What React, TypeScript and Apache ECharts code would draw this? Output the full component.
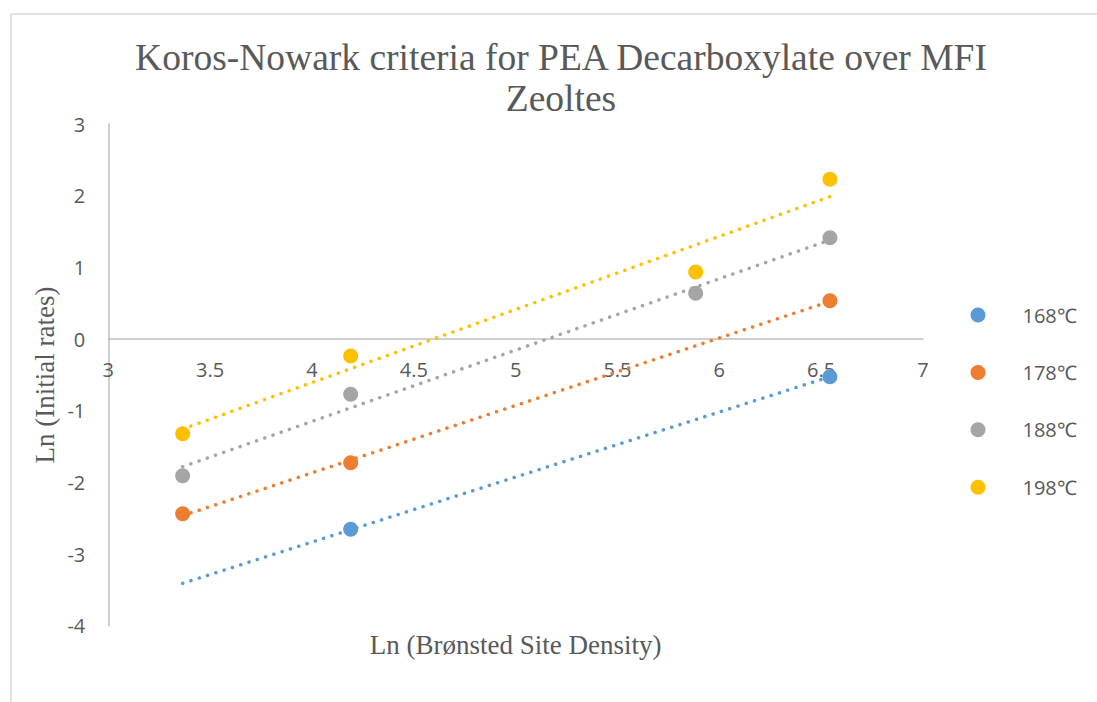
import React, { useEffect, useRef } from "react";
import * as echarts from "echarts";

const titleText = "Koros-Nowark criteria for PEA Decarboxylate over MFI\nZeoltes";
const xAxisTitle = "Ln (Brønsted Site Density)";
const yAxisTitle = "Ln (Initial rates)";

const seriesNames = ["168℃", "178℃", "188℃", "198℃"];
const seriesColors = ["#5B9BD5", "#ED7D31", "#A5A5A5", "#FFC000"];

const x168 = [4.19, 6.543];
const y168 = [-2.655, -0.526];
const x178 = [3.365, 4.19, 6.543];
const y178 = [-2.438, -1.726, 0.534];
const x188 = [3.365, 4.19, 5.884, 6.543];
const y188 = [-1.907, -0.772, 0.638, 1.413];
const x198 = [3.365, 4.19, 5.884, 6.543];
const y198 = [-1.321, -0.237, 0.935, 2.228];

// linear trendline end points (as drawn)
const trendX = [3.365, 6.543];
const trend168 = [-3.409, -0.526];
const trend178 = [-2.465, 0.525];
const trend188 = [-1.782, 1.381];
const trend198 = [-1.256, 1.986];

const xTicks = { min: 3, max: 7, interval: 0.5 };
const yTicks = { min: -4, max: 3, interval: 1 };

const pts = (xs: number[], ys: number[]) => xs.map((x, i) => [x, ys[i]]);

export default function App() {
  const ref = useRef<HTMLDivElement>(null);
  useEffect(() => {
    document.body.style.margin = "0";
    const chart = echarts.init(ref.current!, undefined, { renderer: "svg" });
    const scatterData = [
      pts(x168, y168),
      pts(x178, y178),
      pts(x188, y188),
      pts(x198, y198),
    ];
    const trends = [trend168, trend178, trend188, trend198];
    const tickFont = { color: "#595959", fontSize: 20, fontFamily: "Open Sans" };
    const gridTop = 124;
    const gridBottom = 76.3;
    const plotH = 702 - gridTop - gridBottom;
    // move the x axis (line and labels) up to y = 0
    const zeroOffset = -plotH * (0 - yTicks.min) / (yTicks.max - yTicks.min);
    chart.setOption({
      animation: false,
      backgroundColor: "#ffffff",
      grid: { left: 108.3, right: 174, top: gridTop, bottom: gridBottom },
      xAxis: {
        type: "value",
        min: xTicks.min,
        max: xTicks.max,
        interval: xTicks.interval,
        offset: zeroOffset,
        axisLine: { onZero: false, lineStyle: { color: "#BFBFBF", width: 1.5 } },
        axisTick: { show: false },
        splitLine: { show: false },
        axisLabel: { ...tickFont, margin: 20 },
      },
      yAxis: {
        type: "value",
        min: yTicks.min,
        max: yTicks.max,
        interval: yTicks.interval,
        axisLine: { show: true, onZero: false, lineStyle: { color: "#BFBFBF", width: 1.5 } },
        axisTick: { show: false },
        splitLine: { show: false },
        axisLabel: { ...tickFont, margin: 23 },
      },
      legend: {
        orient: "vertical",
        left: 965.5,
        top: 300,
        itemWidth: 15,
        itemHeight: 15,
        itemGap: 37.4,
        icon: "circle",
        data: seriesNames,
        textStyle: {
          color: "#595959",
          fontSize: 20,
          fontFamily: "Open Sans",
          lineHeight: 15,
          padding: [0, 0, 0, 32],
        },
      },
      graphic: [
        {
          type: "rect",
          shape: { x: 11, y: 14, width: 1100, height: 700 },
          style: { fill: "none", stroke: "#D9D9D9", lineWidth: 1.5 },
          silent: true,
        },
        {
          type: "text",
          x: 561,
          y: 78,
          style: {
            text: titleText,
            align: "center",
            verticalAlign: "middle",
            fill: "#595959",
            font: '37.5px "Liberation Serif"',
            lineHeight: 41,
          },
        },
        {
          type: "text",
          x: 515.7,
          y: 645,
          style: {
            text: xAxisTitle,
            align: "center",
            verticalAlign: "middle",
            fill: "#595959",
            font: '27px "Liberation Serif"',
          },
        },
        {
          type: "text",
          x: 45,
          y: 375,
          rotation: Math.PI / 2,
          style: {
            text: yAxisTitle,
            align: "center",
            verticalAlign: "middle",
            fill: "#595959",
            font: '27px "Liberation Serif"',
          },
        },
      ],
      series: [
        ...seriesNames.map((name, i) => ({
          name: name + " trend",
          type: "line",
          data: pts(trendX, trends[i]),
          symbol: "none",
          silent: true,
          z: 3,
          lineStyle: {
            color: seriesColors[i],
            width: 3.5,
            type: [0.1, 8.6],
            cap: "round",
          },
        })),
        ...seriesNames.map((name, i) => ({
          name,
          type: "scatter",
          data: scatterData[i],
          symbol: "circle",
          symbolSize: 15,
          z: 2,
          itemStyle: { color: seriesColors[i], opacity: 1 },
        })),
      ],
    });
    return () => chart.dispose();
  }, []);
  return <div ref={ref} style={{ width: 1097, height: 702 }} />;
}
